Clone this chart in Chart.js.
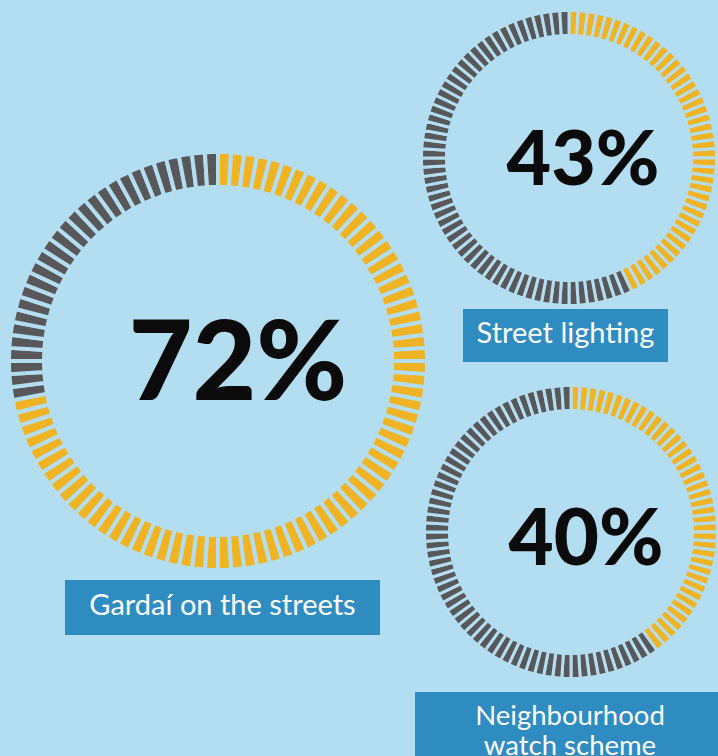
<!DOCTYPE html>
<html>
<head>
<meta charset="utf-8">
<title>Community safety priorities</title>
<script src="https://cdn.jsdelivr.net/npm/chart.js@4.4.1/dist/chart.umd.min.js"></script>
<style>
  html, body {
    margin: 0;
    padding: 0;
    width: 718px;
    height: 756px;
    overflow: hidden;
    background: #b3ddf0;
    font-family: Lato, "Open Sans", sans-serif;
  }
  .ring {
    position: absolute;
  }
  .tag {
    position: absolute;
    background: #2f8cc1;
    color: #ffffff;
    line-height: 30px;
    text-align: center;
    box-sizing: border-box;
  }
</style>
</head>
<body>

<script>
// ======================================================
// DATA
// ======================================================

const categories = ["Gardaí on the streets", "Street lighting", "Neighbourhood watch scheme"];
const tagLines = [["Gardaí on the streets"], ["Street lighting"], ["Neighbourhood", "watch scheme"]];
const percentages = [72, 43, 40];

// one tick per percentage point
const SEGMENTS = 100;

// ======================================================
// LAYOUT
// ======================================================

const BG = "#b3ddf0";
const YELLOW = "#f0b323";
const GREY = "#58585a";

const rings = [
  { cx: 218, cy: 361, outer: 207, inner: 176, gap: 4, font: 110, dx: 20, dy: 39,
    tag: { left: 65, top: 580, width: 315, height: 55, size: 29, pad: 9 } },
  { cx: 569, cy: 158, outer: 146, inner: 124, gap: 3, font: 77, dx: 14, dy: 27,
    tag: { left: 463, top: 309, width: 205, height: 53, size: 29, pad: 8 } },
  { cx: 571, cy: 532, outer: 145, inner: 123, gap: 3, font: 78, dx: 15, dy: 33,
    tag: { left: 415, top: 692, width: 310, height: 70, size: 27.5, pad: 8 } },
];

// ======================================================
// CENTER LABEL PLUGIN
// ======================================================

const centerText = {
  id: "centerText",
  afterDraw(chart, args, opts) {
    const { ctx } = chart;
    const arc = chart.getDatasetMeta(0).data[0];
    if (!arc) return;
    ctx.save();
    ctx.font = `900 ${opts.size}px Lato, "Open Sans", sans-serif`;
    ctx.fillStyle = "#0b0b0b";
    ctx.textAlign = "center";
    ctx.textBaseline = "alphabetic";
    ctx.fillText(opts.text, arc.x + opts.dx, arc.y + opts.dy);
    ctx.restore();
  },
};

// ======================================================
// CHARTS
// ======================================================

rings.forEach((ring, i) => {
  const pct = percentages[i];
  const size = 2 * (ring.outer + ring.gap);

  const canvas = document.createElement("canvas");
  canvas.className = "ring";
  canvas.width = size;
  canvas.height = size;
  canvas.style.left = `${ring.cx - size / 2}px`;
  canvas.style.top = `${ring.cy - size / 2}px`;
  document.body.appendChild(canvas);

  const units = Array.from({ length: SEGMENTS }, () => 1);
  const colours = units.map((_, k) => (k < pct ? YELLOW : GREY));

  // visible radii shrink by half the gap stroke on each side
  const chartOuter = (size - ring.gap) / 2;
  const chartInner = ring.inner - ring.gap / 2;

  new Chart(canvas.getContext("2d"), {
    type: "doughnut",
    data: {
      labels: units.map((_, k) => `${categories[i]} ${k + 1}`),
      datasets: [
        {
          data: units,
          backgroundColor: colours,
          borderColor: BG,
          borderWidth: ring.gap,
          hoverOffset: 0,
        },
      ],
    },
    options: {
      responsive: false,
      animation: false,
      events: [],
      cutout: `${(chartInner / chartOuter) * 100}%`,
      plugins: {
        legend: { display: false },
        tooltip: { enabled: false },
        centerText: {
          text: `${pct}%`,
          size: ring.font,
          dx: ring.dx,
          dy: ring.dy,
        },
      },
    },
    plugins: [centerText],
  });

  // category tag under each ring
  const tag = document.createElement("div");
  tag.className = "tag";
  tag.style.left = `${ring.tag.left}px`;
  tag.style.top = `${ring.tag.top}px`;
  tag.style.width = `${ring.tag.width}px`;
  tag.style.height = `${ring.tag.height}px`;
  tag.style.fontSize = `${ring.tag.size}px`;
  tag.style.paddingTop = `${ring.tag.pad}px`;
  tag.innerHTML = tagLines[i].join("<br>");
  document.body.appendChild(tag);
});
</script>
</body>
</html>
